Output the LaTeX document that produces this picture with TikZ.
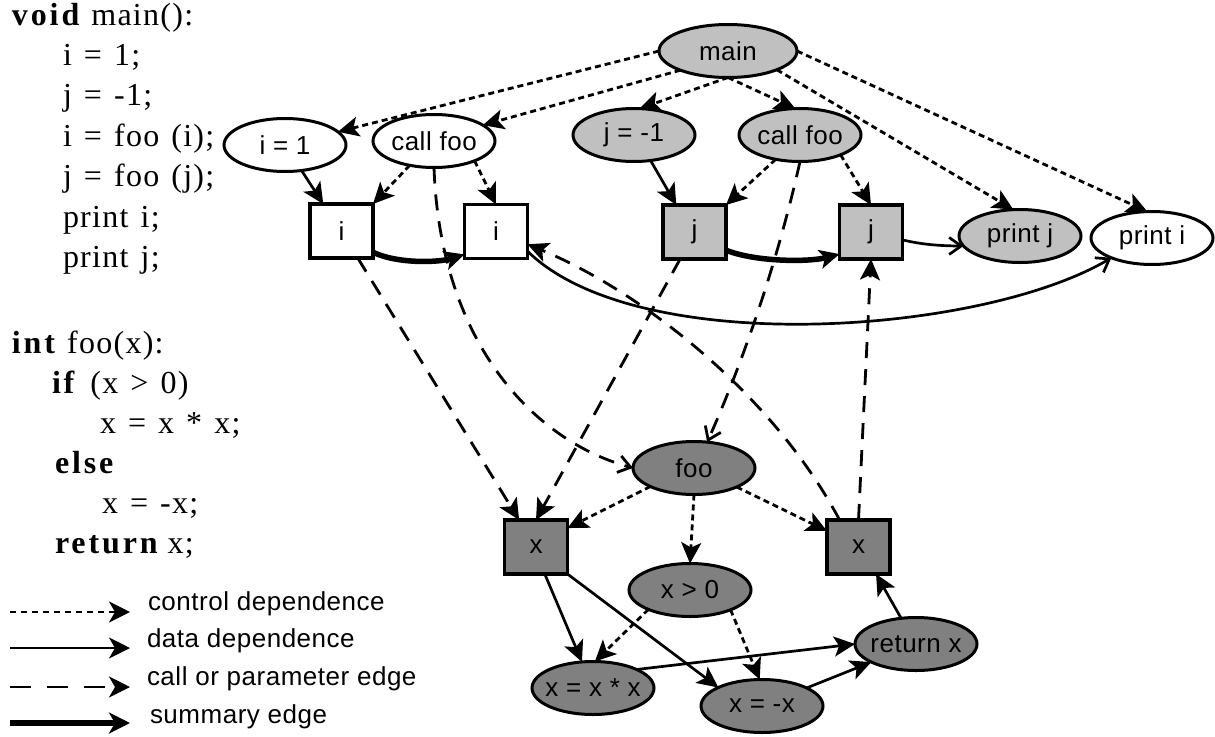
\documentclass[tikz,border=0pt]{standalone}
\usepackage{fontspec}
\setmainfont{Liberation Serif}[LetterSpace=4, WordSpace=1.3]
\newfontfamily\labelfont{Liberation Sans}[LetterSpace=2]
\usetikzlibrary{arrows.meta,shapes.geometric}

\definecolor{lightfill}{HTML}{C0C0C0}
\definecolor{darkfill}{HTML}{808080}

% zero-width label so long texts do not enlarge the ellipses
\newcommand\lbl[1]{\makebox[0pt]{#1}}
% letter-spaced bold keyword
\newcommand\kw[1]{{\bfseries\addfontfeature{LetterSpace=9}#1}}

\tikzset{
  every node/.style={inner sep=0pt, outer sep=0pt},
  codeline/.style={anchor=base west, font=\fontsize{32}{38}\selectfont},
  legendtext/.style={anchor=base west, font=\labelfont\fontsize{26}{30}\selectfont},
  stmt/.style={ellipse, draw, line width=3pt, minimum width=122pt, minimum height=53pt,
    font=\labelfont\fontsize{26}{30}\selectfont},
  stmtW/.style={stmt, fill=white},
  stmtL/.style={stmt, fill=lightfill},
  stmtD/.style={stmt, fill=darkfill},
  pbox/.style={rectangle, draw, line width=3.2pt, minimum width=63pt, minimum height=54pt,
    font=\labelfont\fontsize{26}{30}\selectfont},
  pboxW/.style={pbox, fill=white},
  pboxL/.style={pbox, fill=lightfill},
  pboxD/.style={pbox, fill=darkfill},
  filledtip/.style={-{Stealth[length=21pt,width=20pt,inset=5pt]}},
  opentip/.style={-{Straight Barb[length=12pt,width=17pt]}},
  ctrl/.style={line width=2.8pt, dash pattern=on 6pt off 4pt, filledtip},
  data/.style={line width=2.7pt, filledtip},
  dataopen/.style={line width=2.7pt, opentip},
  param/.style={line width=2.8pt, dash pattern=on 16pt off 11pt, filledtip},
  paramopen/.style={line width=2.8pt, dash pattern=on 16pt off 11pt, opentip},
  summ/.style={line width=5.5pt, -{Stealth[length=20pt,width=19pt,inset=5pt]}},
  legendtip/.style={-{Stealth[length=21pt,width=21pt,inset=6pt]}},
}

\begin{document}
\begin{tikzpicture}[x=1pt, y=-1pt]
\useasboundingbox (0,0) rectangle (1215,736);

% ---- source code ----
\node[codeline] (c1)  at (12,25)  {\kw{void}\hspace{12pt}main():};
\node[codeline] (c2)  at (63,65)  {i = 1;};
\node[codeline] (c3)  at (63,105) {j = -1;};
\node[codeline] (c4)  at (63,146) {i = foo (i);};
\node[codeline] (c5)  at (63,186) {j = foo (j);};
\node[codeline] (c6)  at (63,227) {print i;};
\node[codeline] (c7)  at (63,267) {print j;};
\node[codeline] (c8)  at (12,353) {\kw{int}\hspace{12pt}foo(x):};
\node[codeline] (c9)  at (52,393) {\kw{if}\hspace{16pt}(x > 0)};
\node[codeline] (c10) at (100,433) {x = x * x;};
\node[codeline] (c11) at (55,473) {\kw{else}};
\node[codeline] (c12) at (102,513) {x = -x;};
\node[codeline] (c13) at (55,553) {\kw{return}\hspace{10pt}x;};

% ---- main ----
\node[stmtL, minimum width=138pt] (main) at (728,51) {\lbl{main}};
\node[stmtW] (i1)    at (285,145) {\lbl{i = 1}};
\node[stmtW] (callL) at (434,141) {\lbl{call foo}};
\node[stmtL] (jm1)   at (634,135) {\lbl{j = -1}};
\node[stmtL] (callR) at (800,135) {\lbl{call foo}};
\node[pboxW] (biL) at (341.5,231) {i};
\node[pboxW] (biR) at (496,231.5) {i};
\node[pboxL] (bjL) at (694.5,232) {j};
\node[pboxL] (bjR) at (871,232) {j};
\node[stmtL] (prj) at (1020,236) {\lbl{print j}};
\node[stmtW] (pri) at (1152,238) {\lbl{print i}};

% ---- foo ----
\node[stmtD] (foo)  at (694,468) {\lbl{foo}};
\node[pboxD] (bxL)  at (536,547) {x};
\node[pboxD] (bxR)  at (858.5,547) {x};
\node[stmtD] (xgt)  at (690,590) {\lbl{x > 0}};
\node[stmtD] (ret)  at (916,644) {\lbl{return x}};
\node[stmtD] (xsq)  at (593,688) {\lbl{x = x * x}};
\node[stmtD] (xneg) at (762,706) {\lbl{x = -x}};

% ---- control dependences ----
\draw[ctrl] (main.west) -- (i1.14);
\draw[ctrl] (main.202) -- (callL.18);
\draw[ctrl] (main.south) -- (jm1.78);
\draw[ctrl] (main.south) -- (callR.100);
\draw[ctrl] (main.339) -- (prj.104);
\draw[ctrl] (main.east) -- (pri.100);
\draw[ctrl] (callL.225) -- (biL.north east);
\draw[ctrl] (callL.334) -- (biR.north);
\draw[ctrl] (callR.225) -- (bjL.north east);
\draw[ctrl] (callR.334) -- (bjR.north);
\draw[ctrl] (foo.203) -- (bxL.31);
\draw[ctrl] (foo.south) -- (xgt.north);
\draw[ctrl] (foo.336) -- (bxR.153);
\draw[ctrl] (xgt.205) -- (xsq.86);
\draw[ctrl] (xgt.334) -- (xneg.95);

% ---- data dependences ----
\draw[data] (i1.303) -- (biL.124);
\draw[data] (jm1.303) -- (bjL.124);
\draw[dataopen] (bjR.346) .. controls +(20,5) and +(-20,0) .. (prj.190);
\draw[dataopen] (biR.328) .. controls +(110,108) and +(-130,77) .. (pri.206);
\draw[data] (bxL.288) -- (xsq.113);
\draw[data] (bxL.south east) -- (xneg.157);
\draw[data] (xsq.23) -- (ret.west);
\draw[data] (xneg.22) -- (ret.202);
\draw[data] (ret.120) -- (bxR.303);

% ---- summary edges ----
\draw[summ] (biL.326) .. controls +(25,12) and +(-25,8) .. (biR.216);
\draw[summ] (bjL.330) .. controls +(30,12) and +(-30,8) .. (bjR.215);

% ---- call and parameter edges ----
\draw[paramopen] (callL.south) .. controls +(6,172) and +(-102,-28) .. (foo.west);
\draw[paramopen] (callR.south) .. controls +(-20,90) and +(40,-90) .. (foo.63);
\draw[param] (biL.301) -- (bxL.122);
\draw[param] (bjL.242) -- (bxL.north);
\draw[param] (bxR.125) .. controls +(-68,-128) and +(111,46) .. (biR.338);
\draw[param] (bxR.north) -- (bjR.south);

% ---- legend ----
\coordinate (l1a) at (10,612);  \coordinate (l1b) at (130,612);
\coordinate (l2a) at (10,648);  \coordinate (l2b) at (130,648);
\coordinate (l3a) at (10,687);  \coordinate (l3b) at (130,687);
\coordinate (l4a) at (10,723);  \coordinate (l4b) at (130,723);
\draw[ctrl, dash pattern=on 6pt off 5pt, legendtip] (l1a) -- (l1b);
\draw[data, legendtip]  (l2a) -- (l2b);
\draw[param, dash pattern=on 21pt off 16pt, legendtip] (l3a) -- (l3b);
\draw[line width=5.5pt, legendtip] (l4a) -- (l4b);
\node[legendtext] (t1) at (148,610) {control dependence};
\node[legendtext] (t2) at (147,647) {data dependence};
\node[legendtext] (t3) at (147,685) {call or parameter edge};
\node[legendtext] (t4) at (150,723) {summary edge};
\end{tikzpicture}
\end{document}
